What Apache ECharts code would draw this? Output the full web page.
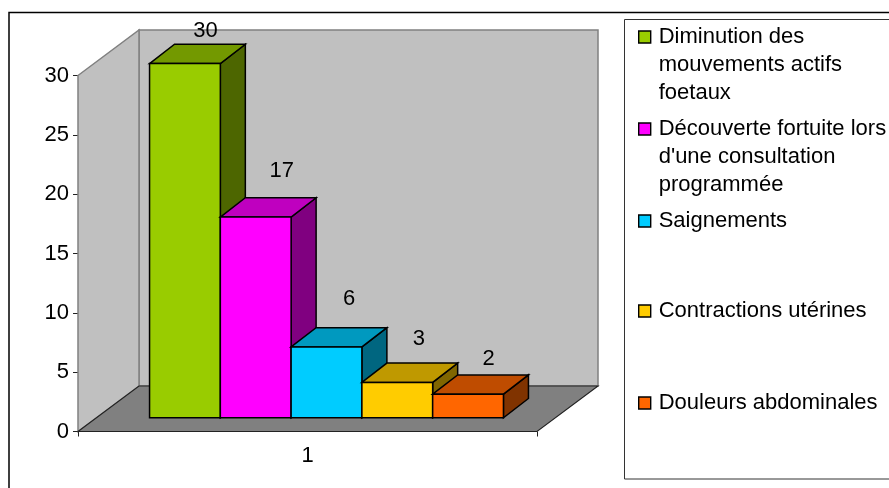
<!DOCTYPE html>
<html><head><meta charset="utf-8">
<style>html,body{margin:0;padding:0;background:#fff}#c{width:889px;height:488px}</style>
<script src="https://cdn.jsdelivr.net/npm/echarts@6/dist/echarts.min.js"></script>
</head><body><div id="c"></div>
<script>
const categories = ['1'];
const seriesNames = ['Diminution des mouvements actifs foetaux','Découverte fortuite lors d\'une consultation programmée','Saignements','Contractions utérines','Douleurs abdominales'];
const legendLines = [['Diminution des','mouvements actifs','foetaux'],['Découverte fortuite lors','d\'une consultation','programmée'],['Saignements'],['Contractions utérines'],['Douleurs abdominales']];
const values = [30,17,6,3,2];
const axisTicks = [0,5,10,15,20,25,30];

const frontColors = ['#99CC00','#FF00FF','#00CCFF','#FFCC00','#FF6600'];
const topColors   = ['#739900','#BF00BF','#0099BF','#BF9900','#BF4C00'];
const sideColors  = ['#4D6600','#800080','#006680','#806600','#803300'];
const labelShift  = [[20.6,-33],[26.1,-46.5],[22.6,-48.5],[21.6,-43.5],[20.6,-35.5]];
const legendIconY = [37,129,221,311,403];
const FONT = 'Liberation Sans', FS = 22, LH = 28;
const wall = {dx:61, dy:-45.5};
const barBase = {dx:19, dy:-13.7};
const barDepth = {dx:25, dy:-19.3};
const barScale = 0.995, barGroupShare = 0.771;

const chart = echarts.init(document.getElementById('c'), null, {renderer:'canvas'});
const poly = (pts, fill, stroke, lw) => ({type:'polygon', shape:{points:pts}, style:{fill, stroke, lineWidth:lw}});

const wallSeries = {
  type:'custom', name:'walls', silent:true, z:1, data:[[0]],
  renderItem(p, api){
    const o = api.coord([0,0]), t = api.coord([0,30]), b = api.size([1,0])[0];
    const x0 = o[0]-b/2, x1 = o[0]+b/2, y0 = o[1], yt = t[1], d = wall;
    return {type:'group', children:[
      poly([[x0+d.dx,yt+d.dy],[x1+d.dx,yt+d.dy],[x1+d.dx,y0+d.dy],[x0+d.dx,y0+d.dy]],'#C0C0C0','#808080',1.5),
      poly([[x0,yt],[x0+d.dx,yt+d.dy],[x0+d.dx,y0+d.dy],[x0,y0]],'#C0C0C0','#808080',1.5),
      poly([[x0,y0],[x0+d.dx,y0+d.dy],[x1+d.dx,y0+d.dy],[x1,y0]],'#808080','#222',1.1)
    ]};
  }
};

const barSeries = seriesNames.map((name,i)=>({
  type:'custom', name, z:3, itemStyle:{color:frontColors[i]}, data:[[0,values[i]]],
  renderItem(p, api){
    const o = api.coord([0,0]), v = api.coord([0,api.value(1)]), b = api.size([1,0])[0];
    const w = b*barGroupShare/seriesNames.length;
    const xL = o[0]-w*seriesNames.length/2+i*w+barBase.dx, xR = xL+w;
    const yB = o[1]+barBase.dy, yT = yB-(o[1]-v[1])*barScale;
    const dx = barDepth.dx, dy = barDepth.dy;
    return {type:'group', children:[
      poly([[xR,yT],[xR+dx,yT+dy],[xR+dx,yB+dy],[xR,yB]],sideColors[i],'#000',1.5),
      poly([[xL,yT],[xL+dx,yT+dy],[xR+dx,yT+dy],[xR,yT]],topColors[i],'#000',1.5),
      {type:'rect', shape:{x:xL,y:yT,width:w,height:yB-yT}, style:{fill:frontColors[i],stroke:'#000',lineWidth:1.5}},
      {type:'text', z2:10, style:{text:String(api.value(1)), x:xL+w/2+labelShift[i][0], y:yT+labelShift[i][1], align:'center', verticalAlign:'middle', fill:'#000', font:FS+'px "'+FONT+'"'}}
    ]};
  }
}));

const legends = seriesNames.map((name,i)=>{
  const extra = legendLines[i].length-1;
  const total = 1+2*extra;
  return {
    data:[name], left:638, top:legendIconY[i]-total*LH/2, orient:'vertical',
    padding:0, itemGap:0, itemWidth:12, itemHeight:12, icon:'rect', selectedMode:false,
    itemStyle:{borderColor:'#000',borderWidth:1.4},
    textStyle:{fontFamily:FONT,fontSize:FS,lineHeight:LH,color:'#000',padding:[0,0,0,3]},
    formatter(){ return '\n'.repeat(extra)+legendLines[i].join('\n'); }
  };
});

chart.setOption({
  animation:false,
  backgroundColor:'#fff',
  textStyle:{fontFamily:FONT},
  grid:{left:78,right:352,top:75.5,bottom:56.5},
  xAxis:{type:'category',data:categories,
    axisLine:{show:false},
    axisTick:{show:true,length:5,lineStyle:{color:'#222',width:1}},
    axisLabel:{color:'#000',fontSize:FS,fontFamily:FONT,margin:13}},
  yAxis:{type:'value',min:0,max:30,interval:5,
    axisLine:{show:true,lineStyle:{color:'#222',width:1}},
    axisTick:{show:true,length:5,lineStyle:{color:'#222',width:1}},
    axisLabel:{color:'#000',fontSize:FS,fontFamily:FONT,margin:9,customValues:axisTicks},
    splitLine:{show:false}},
  legend:legends,
  graphic:[
    {type:'rect',silent:true,z:-1,shape:{x:9,y:12.5,width:890,height:490},style:{fill:'#fff',stroke:'#000',lineWidth:1.5}},
    {type:'rect',silent:true,z:0,shape:{x:624.5,y:19.5,width:290,height:459.5},style:{fill:'#fff',stroke:'#333',lineWidth:1}}
  ],
  series:[wallSeries,...barSeries]
});
</script></body></html>
